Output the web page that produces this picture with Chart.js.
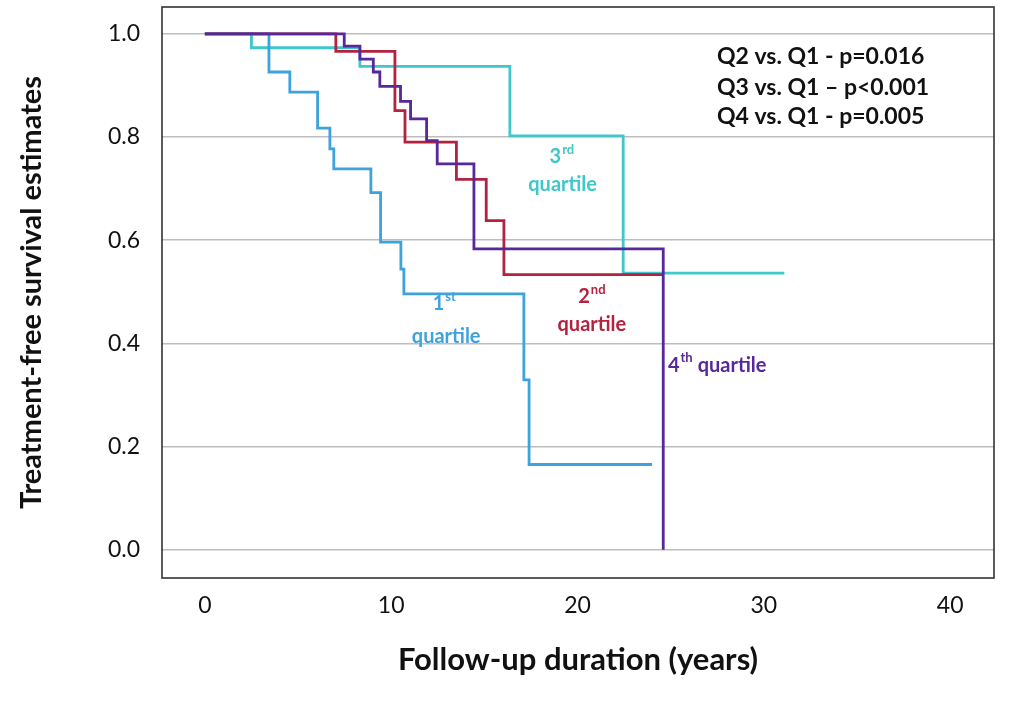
<!DOCTYPE html>
<html>
<head>
<meta charset="utf-8">
<script src="https://cdn.jsdelivr.net/npm/chart.js@4/dist/chart.umd.min.js"></script>
<style>
  html, body { margin: 0; padding: 0; background: #ffffff; }
  #wrap { width: 1013px; height: 703px; }
</style>
</head>
<body>
<div id="wrap"><canvas id="c" width="1013" height="703"></canvas></div>
<script>
// ---- data ----
const xTicks = [0, 10, 20, 30, 40];
const yTicks = [0, 0.2, 0.4, 0.6, 0.8, 1.0];

const timesQ1 = [0, 3.44, 4.56, 6.05, 6.71, 6.92, 8.91, 9.43, 10.52, 10.68, 17.12, 17.4, 24.0];
const survQ1  = [1, 0.926, 0.887, 0.817, 0.777, 0.738, 0.692, 0.596, 0.544, 0.496, 0.329, 0.165, 0.165];

const timesQ2 = [0, 7.03, 10.2, 10.74, 13.5, 15.1, 16.05, 24.6];
const survQ2  = [1, 0.966, 0.851, 0.79, 0.718, 0.638, 0.533, 0.533];

const timesQ3 = [0, 2.5, 8.32, 16.37, 22.45, 31.1];
const survQ3  = [1, 0.973, 0.937, 0.802, 0.536, 0.536];

const timesQ4 = [0, 7.48, 8.32, 9.04, 9.39, 10.5, 11.04, 11.9, 12.47, 14.44, 24.6];
const survQ4  = [1, 0.976, 0.951, 0.926, 0.898, 0.869, 0.835, 0.793, 0.748, 0.583, 0];

const pValueLines = ['Q2 vs. Q1 - p=0.016', 'Q3 vs. Q1 \u2013 p<0.001', 'Q4 vs. Q1 - p=0.005'];

const colQ1 = '#3ea2dc';
const colQ2 = '#b3223f';
const colQ3 = '#3fc7cb';
const colQ4 = '#57289a';

function pts(t, s) { return t.map((v, i) => ({ x: v, y: s[i] })); }

const FONT = 'Lato, "Open Sans", sans-serif';

const boxPlugin = {
  id: 'box',
  afterDraw(chart) {
    const a = chart.chartArea, ctx = chart.ctx;
    ctx.save();
    ctx.strokeStyle = '#333333';
    ctx.lineWidth = 1.6;
    ctx.strokeRect(a.left, a.top, a.right - a.left, a.bottom - a.top);
    ctx.restore();
  }
};

function supText(ctx, base, sup, x, y, color, size, align) {
  ctx.save();
  ctx.fillStyle = color;
  ctx.textBaseline = 'middle';
  ctx.textAlign = 'left';
  ctx.font = 'bold ' + size + 'px ' + FONT;
  const wb = ctx.measureText(base).width;
  const supSize = Math.round(size * 0.66);
  ctx.font = 'bold ' + supSize + 'px ' + FONT;
  const ws = ctx.measureText(sup).width;
  let x0 = align === 'center' ? x - (wb + ws + 1) / 2 : x;
  ctx.font = 'bold ' + size + 'px ' + FONT;
  ctx.fillText(base, x0, y);
  ctx.font = 'bold ' + supSize + 'px ' + FONT;
  ctx.fillText(sup, x0 + wb + 1, y - size * 0.36);
  ctx.restore();
  return x0 + wb + ws + 1;
}

const labelPlugin = {
  id: 'labels',
  afterDraw(chart) {
    const xs = chart.scales.x, ys = chart.scales.y, ctx = chart.ctx;
    const X = v => xs.getPixelForValue(v), Y = v => ys.getPixelForValue(v);
    const fs = 20;
    function plain(text, x, y, color, align) {
      ctx.save();
      ctx.fillStyle = color;
      ctx.font = 'bold ' + fs + 'px ' + FONT;
      ctx.textAlign = align; ctx.textBaseline = 'middle';
      ctx.fillText(text, x, y);
      ctx.restore();
    }
    // 3rd quartile
    supText(ctx, '3', 'rd', X(19.16), Y(0.762), colQ3, fs, 'center');
    plain('quartile', X(19.2), Y(0.707), colQ3, 'center');
    // 1st quartile
    supText(ctx, '1', 'st', X(12.85), Y(0.477), colQ1, fs, 'center');
    plain('quartile', X(12.95), Y(0.413), colQ1, 'center');
    // 2nd quartile
    supText(ctx, '2', 'nd', X(20.77), Y(0.49), colQ2, fs, 'center');
    plain('quartile', X(20.77), Y(0.436), colQ2, 'center');
    // 4th quartile
    const xe = supText(ctx, '4', 'th', X(24.85), Y(0.357), colQ4, fs, 'left');
    plain('quartile', xe + 5, Y(0.357), colQ4, 'left');
    // p-values
    ctx.save();
    ctx.fillStyle = '#111111';
    ctx.font = 'bold 23px ' + FONT;
    ctx.textAlign = 'left'; ctx.textBaseline = 'middle';
    const py = [0.955, 0.895, 0.839];
    pValueLines.forEach((t, i) => ctx.fillText(t, X(27.48), Y(py[i])));
    ctx.restore();
  }
};

const lineStyle = { stepped: true, pointRadius: 0, borderWidth: 2.8, fill: false };

new Chart(document.getElementById('c'), {
  type: 'line',
  data: {
    datasets: [
      Object.assign({ label: '4th quartile', data: pts(timesQ4, survQ4), borderColor: colQ4 }, lineStyle),
      Object.assign({ label: '2nd quartile', data: pts(timesQ2, survQ2), borderColor: colQ2 }, lineStyle),
      Object.assign({ label: '1st quartile', data: pts(timesQ1, survQ1), borderColor: colQ1 }, lineStyle),
      Object.assign({ label: '3rd quartile', data: pts(timesQ3, survQ3), borderColor: colQ3 }, lineStyle)
    ]
  },
  options: {
    responsive: false,
    animation: false,
    devicePixelRatio: 1,
    layout: { padding: { top: 7, right: 19, left: 0, bottom: 0 } },
    plugins: { legend: { display: false }, tooltip: { enabled: false } },
    scales: {
      x: {
        type: 'linear',
        min: -2.3, max: 42.35,
        afterBuildTicks(s) { s.ticks = xTicks.map(v => ({ value: v })); },
        afterFit(s) { s.height = 125; s.paddingLeft = 0; s.paddingRight = 0; },
        grid: { display: false, drawTicks: false },
        border: { display: false },
        ticks: { padding: 14, color: '#111111', font: { family: FONT, size: 23 }, maxRotation: 0 },
        title: {
          display: true, text: 'Follow-up duration (years)', color: '#111111',
          font: { family: FONT, size: 31, weight: 'bold' },
          padding: { top: 0, bottom: 24 }
        }
      },
      y: {
        type: 'linear',
        min: -0.055, max: 1.052,
        afterBuildTicks(s) { s.ticks = yTicks.map(v => ({ value: v })); },
        afterFit(s) { s.width = 162; s.paddingTop = 0; s.paddingBottom = 0; },
        grid: { color: '#bdbdbd', lineWidth: 1.6, drawTicks: false },
        border: { display: false },
        ticks: {
          padding: 22, color: '#111111', font: { family: FONT, size: 23 },
          callback: v => Number(v).toFixed(1)
        },
        title: {
          display: true, text: 'Treatment-free survival estimates', color: '#111111',
          font: { family: FONT, size: 29, weight: 'bold' },
          padding: { top: 14, bottom: 0 }
        }
      }
    }
  },
  plugins: [boxPlugin, labelPlugin]
});
</script>
</body>
</html>
